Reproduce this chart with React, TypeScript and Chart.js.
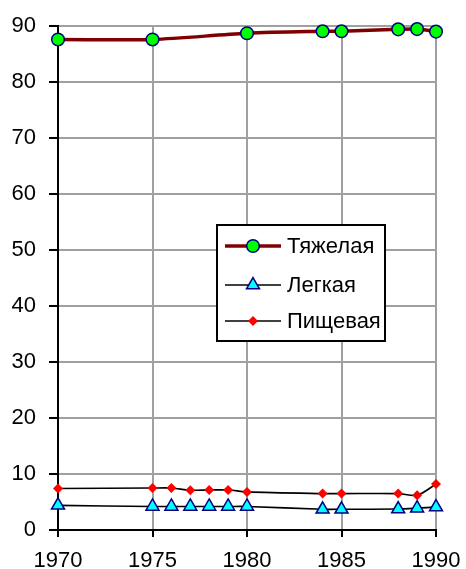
import React, { useEffect, useRef } from "react";
import { Chart, registerables } from "chart.js";

Chart.register(...registerables);

const heavyYears = [1970, 1975, 1980, 1984, 1985, 1988, 1989, 1990];
const heavyValues = [87.6, 87.6, 88.7, 89.05, 89.05, 89.4, 89.45, 89.0];

const lightYears = [1970, 1975, 1976, 1977, 1978, 1979, 1980, 1984, 1985, 1988, 1989, 1990];
const lightValues = [4.4, 4.2, 4.2, 4.2, 4.2, 4.2, 4.2, 3.7, 3.7, 3.75, 3.9, 4.1];

const foodYears = [1970, 1975, 1976, 1977, 1978, 1979, 1980, 1984, 1985, 1988, 1989, 1990];
const foodValues = [7.4, 7.5, 7.5, 7.1, 7.15, 7.15, 6.8, 6.5, 6.5, 6.5, 6.2, 8.2];

const seriesNames = ["Тяжелая", "Легкая", "Пищевая"];

const FONT = "'Liberation Sans', Arial, sans-serif";

function zip(xs: number[], ys: number[]) {
  return xs.map((x, i) => ({ x, y: ys[i] }));
}

function drawMarker(ctx: CanvasRenderingContext2D, style: string, x: number, y: number, r: number, fill: string, stroke: string, bw: number) {
  ctx.save();
  ctx.beginPath();
  if (style === "circle") {
    ctx.arc(x, y, r, 0, Math.PI * 2);
  } else if (style === "triangle") {
    const half = r * Math.sqrt(3) / 2;
    ctx.moveTo(x, y - r);
    ctx.lineTo(x + half, y + r / 2);
    ctx.lineTo(x - half, y + r / 2);
    ctx.closePath();
  } else {
    ctx.moveTo(x, y - r);
    ctx.lineTo(x + r, y);
    ctx.lineTo(x, y + r);
    ctx.lineTo(x - r, y);
    ctx.closePath();
  }
  ctx.fillStyle = fill;
  ctx.fill();
  if (bw > 0) {
    ctx.lineWidth = bw;
    ctx.strokeStyle = stroke;
    ctx.stroke();
  }
  ctx.restore();
}

const boxLegend = {
  id: "boxLegend",
  afterDraw(chart: any) {
    const ctx: CanvasRenderingContext2D = chart.ctx;
    const bx = 217, by = 225, bw = 168, bh = 116;
    ctx.save();
    ctx.fillStyle = "#ffffff";
    ctx.fillRect(bx, by, bw, bh);
    ctx.lineWidth = 2;
    ctx.strokeStyle = "#000000";
    ctx.strokeRect(bx, by, bw, bh);
    const rows = [246, 285, 321];
    chart.data.datasets.forEach((ds: any, i: number) => {
      const y = rows[i];
      ctx.beginPath();
      ctx.moveTo(bx + 8, y);
      ctx.lineTo(bx + 64, y);
      ctx.lineWidth = ds.borderWidth;
      ctx.strokeStyle = ds.borderColor;
      ctx.stroke();
      drawMarker(ctx, ds.pointStyle, bx + 36, y, ds.pointRadius, ds.pointBackgroundColor, ds.pointBorderColor, ds.pointBorderWidth);
      ctx.fillStyle = "#000000";
      ctx.font = `22px ${FONT}`;
      ctx.textBaseline = "middle";
      ctx.textAlign = "left";
      ctx.fillText(ds.label, bx + 70, y + 1);
    });
    ctx.restore();
  },
};

export default function App() {
  const ref = useRef<HTMLCanvasElement | null>(null);

  useEffect(() => {
    document.body.style.margin = "0";
    const canvas = ref.current;
    if (!canvas) return;
    const chart = new Chart(canvas, {
      type: "line",
      data: {
        datasets: [
          {
            label: seriesNames[0],
            data: zip(heavyYears, heavyValues),
            borderColor: "#800000",
            borderWidth: 3.5,
            tension: 0.3,
            clip: false,
            pointStyle: "circle",
            pointRadius: 6.3,
            pointBackgroundColor: "#00ff00",
            pointBorderColor: "#000080",
            pointBorderWidth: 1.5,
          },
          {
            label: seriesNames[1],
            data: zip(lightYears, lightValues),
            borderColor: "#000000",
            borderWidth: 1.6,
            tension: 0.3,
            clip: false,
            pointStyle: "triangle",
            pointRadius: 7.5,
            pointBackgroundColor: "#00ffff",
            pointBorderColor: "#000080",
            pointBorderWidth: 1.5,
          },
          {
            label: seriesNames[2],
            data: zip(foodYears, foodValues),
            borderColor: "#000000",
            borderWidth: 1.6,
            tension: 0.3,
            clip: false,
            pointStyle: "rectRot",
            pointRadius: 5,
            pointBackgroundColor: "#ff0000",
            pointBorderColor: "#ff0000",
            pointBorderWidth: 0,
          },
        ] as any,
      },
      options: {
        animation: false,
        responsive: false,
        layout: { padding: { top: 26, right: 30, left: 0, bottom: 0 } },
        plugins: {
          legend: { display: false },
          tooltip: { enabled: false },
        },
        scales: {
          x: {
            type: "linear",
            min: 1970,
            max: 1990,
            afterFit: (s: any) => {
              s.height = 39;
              s.paddingLeft = 0;
              s.paddingRight = 0;
            },
            ticks: {
              stepSize: 5,
              color: "#000000",
              font: { family: FONT, size: 22 },
              padding: 11,
              maxRotation: 0,
              callback: (v: any) => String(v),
            },
            grid: {
              color: "#a0a0a0",
              lineWidth: 2,
              tickLength: 7,
              tickColor: "#000000",
            },
            border: { color: "#000000", width: 2 },
          },
          y: {
            min: 0,
            max: 90,
            afterFit: (s: any) => {
              s.width = 58;
              s.paddingTop = 0;
              s.paddingBottom = 0;
            },
            ticks: {
              stepSize: 10,
              color: "#000000",
              font: { family: FONT, size: 22 },
              padding: 13,
            },
            grid: {
              color: "#a0a0a0",
              lineWidth: 2,
              tickLength: 9,
              tickColor: "#000000",
            },
            border: { color: "#000000", width: 2 },
          },
        },
      },
      plugins: [boxLegend],
    });
    return () => chart.destroy();
  }, []);

  return <canvas ref={ref} width={466} height={569} style={{ display: "block" }} />;
}
